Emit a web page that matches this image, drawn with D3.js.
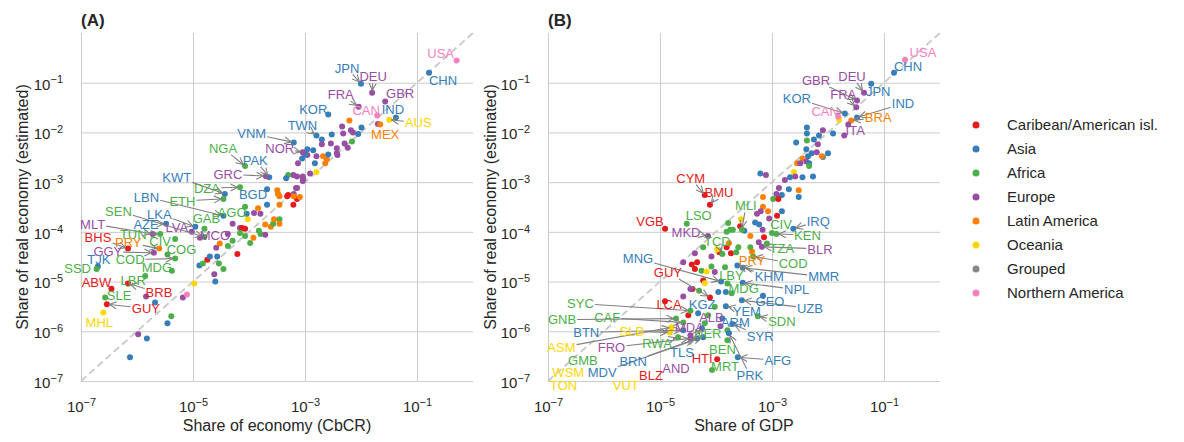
<!DOCTYPE html>
<html><head><meta charset="utf-8">
<script src="https://cdn.jsdelivr.net/npm/d3@7"></script>
<style>
body{margin:0;background:#fff}
text{font-family:"Liberation Sans",Arial,Helvetica,sans-serif}
</style>
</head><body>
<svg id="chart" width="1184" height="442"></svg>
<script>
// ---------------- DATA ----------------
const regions = ["Caribean/American isl.","Asia","Africa","Europe","Latin America","Oceania","Grouped","Northern America"];
const regionColors = ["#e41a1c","#377eb8","#4daf4a","#984ea3","#ff7f00","#ffd700","#888888","#f781bf"];
const xTickValues = [1e-7,1e-5,1e-3,1e-1];
const yTickValues = [1e-7,1e-6,1e-5,1e-4,1e-3,1e-2,1e-1];

// Panel A: [code, regionIndex, share of economy (CbCR), share of real economy]
const labeledA = [
["USA",7,0.51,0.28],["CHN",1,0.164,0.158],["JPN",1,0.010,0.095],["DEU",3,0.0158,0.063],
["GBR",3,0.027,0.042],["FRA",3,0.0091,0.033],["CAN",7,0.0194,0.022],["IND",1,0.042,0.020],
["AUS",5,0.032,0.018],["MEX",4,0.022,0.0145],["KOR",1,0.0026,0.023],["TWN",1,0.0016,0.0087],
["VNM",1,6.3e-4,6.3e-3],["NOR",3,9.1e-4,4.0e-3],["NGA",2,8.5e-5,2.1e-3],["PAK",1,2.3e-4,1.26e-3],
["GRC",3,2.0e-4,1.32e-3],["KWT",1,3.7e-5,5.8e-4],["DZA",2,6.9e-5,7.9e-4],["BGD",1,2.1e-4,7.2e-4],
["LBN",1,3.5e-5,2.1e-4],["ETH",2,3.5e-5,4.6e-4],["AGO",2,8.5e-5,3.2e-4],["SEN",2,1.6e-5,7.9e-5],
["GAB",2,1.6e-5,1.15e-4],["LKA",1,1.1e-5,1.26e-4],["AZE",1,3.3e-6,1.45e-4],["MLT",3,1.9e-6,9.1e-5],
["LVA",3,9.5e-6,1.0e-4],["TUN",2,2.6e-6,9.1e-5],["BHS",0,6.9e-7,4.6e-5],["CIV",2,4.8e-6,7.2e-5],
["PRY",4,2.5e-6,4.6e-5],["MCO",3,1.33e-5,7.6e-5],["GGY",3,2.0e-6,3.8e-5],["COG",2,3.5e-6,3.5e-5],
["TJK",1,2.0e-7,2.0e-5],["COD",2,4.8e-6,2.9e-5],["SSD",2,1.9e-7,1.8e-5],["MDG",2,4.2e-6,1.66e-5],
["LBR",2,1.4e-6,1.3e-5],["ABW",0,3.5e-7,7.2e-6],["BRB",0,6.9e-7,9.1e-6],["SLE",2,2.7e-7,4.8e-6],
["GUY",0,2.9e-7,3.5e-6],["MHL",5,2.5e-7,2.4e-6]
];
// Panel A unlabeled: [regionIndex, CbCR share, real share]
const otherA = [
[3,1.45e-6,5.0e-6],[1,2.1e-6,3.8e-6],[2,4.1e-6,2.0e-6],[1,3.5e-6,1.45e-6],[3,1.05e-6,8.7e-7],
[1,1.5e-6,7.2e-7],[1,7.5e-7,3.0e-7],[5,1.05e-5,9.1e-6],[3,6.6e-6,4.8e-6],[7,7.8e-6,5.5e-6],
[3,2.4e-5,1.4e-5],[1,2.5e-5,1.0e-5],[1,1.3e-5,2.1e-5],[0,1.8e-5,2.75e-5],[2,1.5e-5,2.3e-5],
[1,2.0e-5,3.2e-5],[1,2.7e-5,3.2e-5],[2,2.9e-5,2.3e-5],[2,3.5e-5,1.8e-5],[3,2.6e-5,4.8e-5],
[4,3.0e-5,5.8e-5],[2,4.2e-5,5.2e-5],[2,5.1e-5,6.6e-5],[3,4.2e-5,9.1e-5],[3,5.1e-5,1.45e-4],
[0,6.2e-5,3.6e-5],[3,6.9e-5,1.2e-4],[0,7.5e-5,1.2e-4],[0,8.5e-5,1.15e-4],[2,6.9e-5,9.5e-5],
[2,8.5e-5,8.3e-5],[2,1.05e-4,6.0e-5],[4,1.2e-4,7.6e-5],[2,1.5e-4,1.05e-4],[2,1.6e-4,9.1e-5],
[4,1.95e-4,1.4e-4],[3,1.95e-4,8.7e-5],[4,2.45e-4,1.26e-4],[2,2.7e-4,1.45e-4],[4,2.8e-4,1.8e-4],
[2,3.5e-4,1.8e-4],[4,3.5e-4,1.45e-4],[3,1.6e-4,2.3e-4],[3,1.23e-4,2.4e-4],[4,1.45e-4,3.0e-4],
[5,9.5e-5,1.8e-4],[1,9.1e-5,2.3e-4],[1,2.1e-4,3.5e-4],[4,3.5e-4,3.5e-4],[4,3.3e-4,5.8e-4],
[4,3.2e-4,6.9e-4],[0,5.0e-4,5.5e-4],[3,6.3e-4,5.8e-4],[0,7.2e-4,4.6e-4],[4,8.1e-4,5.0e-4],
[0,6.2e-4,3.5e-4],[3,7.2e-4,7.6e-4],[3,9.1e-4,1.05e-3],[3,4.6e-3,0.0132],[4,6.2e-3,0.0174],
[3,4.8e-3,9.5e-3],[3,7.2e-3,0.01],[1,3.0e-3,9.1e-3],[1,2.0e-3,7.2e-3],[3,2.0e-3,5.8e-3],
[3,2.9e-3,6.0e-3],[3,3.7e-3,4.8e-3],[3,5.1e-3,6.0e-3],[3,3.7e-3,3.8e-3],[1,1.4e-3,4.4e-3],
[1,1.1e-3,4.6e-3],[3,1.1e-3,3.5e-3],[4,2.1e-3,3.3e-3],[4,2.45e-3,2.9e-3],[4,2.3e-3,2.4e-3],
[1,2.6e-3,3.6e-3],[2,6.9e-3,6.6e-3],[3,1.6e-3,3.3e-3],[1,1.5e-3,2.4e-3],[1,1.0e-3,3.6e-3],
[1,8.9e-4,3.0e-3],[3,7.5e-4,2.4e-3],[3,1.23e-3,1.5e-3],[5,1.6e-3,1.6e-3],[3,9.1e-4,1.3e-3],
[3,9.3e-4,1.15e-3],[3,7.2e-4,1.3e-3],[3,6.2e-4,1.4e-3],[2,5.0e-4,1.4e-3],[1,4.6e-4,1.2e-3],
[3,6.9e-4,7.6e-4],[0,4.8e-4,5.2e-4],[4,6.3e-4,5.2e-4],[4,3.5e-4,5.2e-4],[1,0.0102,0.0126],
[3,6.6e-3,0.011],[1,8.9e-3,9.3e-3],[3,5.8e-3,4.9e-3],[3,3.8e-3,3.5e-3],[3,0.02,0.0148]
];

// Panel B: [code, regionIndex, share of GDP, share of real economy]
const labeledB = [
["USA",7,0.237,0.29],["CHN",1,0.151,0.158],["JPN",1,0.059,0.095],["DEU",3,0.044,0.063],
["GBR",3,0.033,0.044],["FRA",3,0.032,0.032],["KOR",1,0.020,0.024],["IND",1,0.033,0.020],
["CAN",7,0.0152,0.021],["BRA",4,0.026,0.0174],["ITA",3,0.023,0.0145],["CYM",0,6.3e-5,5.5e-4],
["BMU",0,7.8e-5,3.5e-4],["VGB",0,1.23e-5,1.15e-4],["LSO",2,3.0e-5,1.45e-4],["MKD",3,7.2e-5,8.3e-5],
["MLI",2,2.9e-4,1.1e-4],["TCD",2,1.3e-4,3.6e-5],["CIV",2,1.0e-3,9.5e-5],["IRQ",1,2.4e-3,1.15e-4],
["KEN",2,1.2e-3,9.1e-5],["BLR",3,6.6e-4,5.0e-5],["TZA",2,8.1e-4,5.8e-5],["COD",2,4.6e-4,3.2e-5],
["PRY",4,4.4e-4,4.0e-5],["MMR",1,3.0e-4,1.9e-5],["KHM",1,2.4e-4,2.1e-5],["LBY",2,1.6e-4,9.1e-6],
["NPL",1,3.0e-4,9.5e-6],["MDG",2,1.9e-4,5.8e-6],["GEO",1,6.9e-4,5.2e-6],["UZB",1,2.9e-4,4.2e-6],
["YEM",1,1.5e-4,3.2e-6],["SDN",2,5.6e-4,2.0e-6],["ARM",1,1.3e-4,1.8e-6],["SYR",1,1.95e-4,1.4e-6],
["AFG",1,2.45e-4,3.0e-7],["PRK",1,1.7e-4,9.1e-7],["BEN",2,1.6e-4,6.6e-7],["MRT",2,8.5e-5,1.66e-7],
["HTI",0,1.05e-4,2.75e-7],["NER",2,6.3e-5,1.45e-6],["ALB",3,1.2e-4,1.26e-6],["MDA",3,3.5e-5,8.3e-7],
["KGZ",1,4.8e-5,2.3e-6],["LCA",0,1.23e-5,4.0e-6],["GUY",0,7.8e-5,4.8e-6],["MNG",1,1.23e-4,1.0e-5],
["SYC",2,3.5e-5,2.6e-6],["GNB",2,1.93e-5,1.8e-6],["CAF",2,2.6e-5,1.5e-6],["BTN",1,2.6e-5,1.05e-6],
["SLB",5,1.5e-5,9.5e-7],["ASM",5,1.6e-5,1.2e-6],["FRO",3,3.5e-5,7.2e-7],["RWA",2,2.1e-5,7.6e-7],
["BRN",1,4.6e-5,7.2e-7],["TLS",1,5.6e-5,1.15e-6],["MDV",1,5.9e-5,7.6e-7]
];
// Panel B labels whose points fall below the plotted range: [code, regionIndex]
const labelOnlyB = [["GMB",2],["WSM",5],["TON",5],["VUT",5],["BLZ",0],["AND",3]];
// Panel B unlabeled: [regionIndex, GDP share, real share]
const otherB = [
[5,0.0158,0.018],[1,4.2e-3,0.0126],[1,4.2e-3,9.5e-3],[3,8.1e-3,0.011],[1,6.9e-3,8.7e-3],
[1,0.0123,9.5e-3],[3,0.0195,8.7e-3],[1,2.7e-3,6.3e-3],[2,4.2e-3,6.9e-3],[1,5.6e-3,7.2e-3],
[3,6.6e-3,5.8e-3],[1,4.1e-3,4.6e-3],[1,5.1e-3,3.8e-3],[3,6.3e-3,4.0e-3],[1,0.01,3.8e-3],
[1,8.1e-3,3.2e-3],[4,7.8e-3,3.3e-3],[1,4.4e-3,3.3e-3],[4,3.5e-3,3.0e-3],[3,4.1e-3,2.6e-3],
[4,2.8e-3,2.4e-3],[3,3.2e-3,2.4e-3],[1,4.6e-3,2.4e-3],[2,4.6e-3,2.1e-3],[5,2.45e-3,1.6e-3],
[1,6.2e-4,1.5e-3],[3,7.8e-4,1.4e-3],[1,2.1e-3,1.26e-3],[3,2.6e-3,1.3e-3],[3,1.7e-3,1.1e-3],
[1,3.5e-3,1.26e-3],[1,5.4e-3,1.3e-3],[3,1.33e-3,7.6e-4],[1,2.0e-3,7.2e-4],[4,3.0e-3,6.9e-4],
[1,3.0e-3,5.0e-4],[4,6.9e-4,5.0e-4],[1,1.5e-3,5.5e-4],[3,1.2e-3,5.8e-4],[2,1.05e-3,4.6e-4],
[0,1.3e-3,4.6e-4],[4,6.9e-4,3.2e-4],[4,8.5e-4,2.6e-4],[3,5.4e-4,2.3e-4],[3,6.3e-4,2.6e-4],
[1,5.0e-4,1.55e-4],[1,5.9e-4,1.4e-4],[3,8.9e-4,1.85e-4],[0,1.23e-3,2.1e-4],[1,1.5e-3,2.6e-4],
[5,2.8e-4,1.8e-4],[0,2.7e-4,1.3e-4],[2,1.8e-4,1.1e-4],[2,2.0e-4,1.1e-4],[2,1.55e-4,1.0e-4],
[4,4.1e-4,8.3e-5],[1,3.2e-4,1.05e-4],[3,6.8e-4,1.1e-4],[2,2.5e-4,4.9e-5],[0,1.55e-4,4.9e-5],
[4,1.7e-4,5.9e-5],[2,4.1e-4,4.9e-5],[3,5.8e-4,6.2e-5],[0,7.2e-4,7.8e-5],[2,1.65e-4,1.5e-4],
[0,1.15e-4,3.9e-5],[5,1.05e-4,4.4e-5],[0,1.85e-4,3.7e-5],[2,2.3e-4,3.9e-5],[3,4.2e-5,3.7e-5],
[2,5.9e-5,4.9e-5],[3,8.3e-5,3.2e-5],[0,4.6e-5,2.45e-5],[0,4.2e-5,1.8e-5],[2,5.5e-5,1.66e-5],
[5,6.8e-5,1.6e-5],[2,8.3e-5,2.0e-5],[3,9.5e-5,1.55e-5],[2,1.45e-4,1.95e-5],[0,5.9e-5,1.05e-5],
[0,3.8e-5,7.1e-6],[3,2.6e-5,5.0e-6],[5,6.3e-5,9.3e-6],[3,2.6e-5,2.45e-5],[0,3.7e-5,2.2e-5],
[3,3.5e-5,7.1e-6],[2,5.0e-5,6.5e-6],[1,1.1e-4,6.2e-6],[1,1.5e-4,6.2e-6],[2,9.5e-5,3.1e-6],
[2,7.2e-5,2.1e-6],[2,1.6e-4,1.05e-6],[0,3.2e-5,2.1e-6]
];

// ---------------- LAYOUT (label offsets in px from their point) ----------------
const offsetA = {USA:[-16,-7],CHN:[14,7],JPN:[-14,-16],DEU:[1,-16],GBR:[15,-8],FRA:[-18,-12],CAN:[-11,-5],
IND:[-3,-8],AUS:[29,3],MEX:[5,10],KOR:[-15,-5],TWN:[-14,-10],VNM:[-42,-9],NOR:[-23,-4],NGA:[-22,-18],
PAK:[-14,-17],GRC:[-38,-2],KWT:[-48,-17],DZA:[-33,1],BGD:[-14,5],LBN:[-77,-19],ETH:[-41,2],AGO:[-13,6],
SEN:[-86,-26],GAB:[2,-11],LKA:[-36,-13],AZE:[-20,0],MLT:[-60,-10],LVA:[-15,-5],TUN:[-27,0],BHS:[-30,-11],
CIV:[-15,2],PRY:[-31,-6],MCO:[15,-2],GGY:[-46,-1],COG:[14,-5],TJK:[1,-7],COD:[-45,1],SSD:[-19,-1],
MDG:[-15,-3],LBR:[-12,4],ABW:[-15,-6],BRB:[31,9],SLE:[14,-2],GUY:[39,4],MHL:[-4,10]};
const offsetB = {USA:[18,-7],CHN:[14,-7],JPN:[7,7],DEU:[-12,-16],GBR:[-41,-20],FRA:[-13,-13],KOR:[-48,-15],
IND:[46,-14],CAN:[-13,-5],BRA:[27,-3],ITA:[7,6],CYM:[-14,-17],BMU:[9,-12],VGB:[-15,-8],LSO:[12,-9],
MKD:[-22,-4],MLI:[4,-24],TCD:[-5,-13],CIV:[9,-9],IRQ:[25,-8],KEN:[31,1],BLR:[58,2],TZA:[15,5],COD:[40,7],
PRY:[0,9],MMR:[81,9],KHM:[32,11],LBY:[4,-8],NPL:[54,7],MDG:[12,-5],GEO:[7,6],UZB:[68,8],YEM:[21,5],
SDN:[24,5],ARM:[13,4],SYR:[28,12],AFG:[40,3],PRK:[21,42],BEN:[-5,9],MRT:[13,-4],HTI:[-15,-1],NER:[3,10],
ALB:[-9,-9],MDA:[-1,-8],KGZ:[4,-9],LCA:[4,3],GUY:[-42,-25],MNG:[-83,-23],SYC:[-110,-7],GNB:[-114,1],
CAF:[-76,-5],BTN:[-97,2],SLB:[-38,-1],ASM:[-110,20],FRO:[-79,9],RWA:[-21,6],BRN:[-64,23],TLS:[-20,24],
MDV:[-101,35]};
// label-only text anchors, in data coordinates
const labelOnlyPosB = {GMB:[4.2e-7,2.6e-7],WSM:[2.3e-7,1.5e-7],TON:[1.9e-7,8.3e-8],VUT:[2.45e-6,8.3e-8],
BLZ:[6.9e-6,1.3e-7],AND:[1.93e-5,1.8e-7]};

// ---------------- DRAW ----------------
const svg = d3.select("#chart");
const txt = "#262626", grid = "#cccccc";
const yTop = 33, yBot = 381;

svg.append("defs").append("marker")
  .attr("id","arr").attr("viewBox","-8 -5 10 10").attr("refX",0).attr("refY",0)
  .attr("markerWidth",10).attr("markerHeight",10).attr("markerUnits","userSpaceOnUse")
  .attr("orient","auto")
  .append("path").attr("d","M-7,-3.5L0,0L-7,3.5").attr("fill","none")
  .attr("stroke","#808080").attr("stroke-width",1.1);

const panels = [
  {title:"(A)", x0:81, x1:473, xlabel:"Share of economy (CbCR)", ylabelX:22,
   labeled:labeledA, other:otherA, offsets:offsetA, only:[], onlyPos:{}},
  {title:"(B)", x0:548, x1:940, xlabel:"Share of GDP", ylabelX:490,
   labeled:labeledB, other:otherB, offsets:offsetB, only:labelOnlyB, onlyPos:labelOnlyPosB}
];

function supLabel(sel){
  sel.text(null);
  sel.append("tspan").text("10");
  sel.append("tspan").attr("dy","-0.55em").attr("font-size","11px")
     .text(d => "\u2212" + Math.round(-Math.log10(d)));
}

panels.forEach(p => {
  const x = d3.scaleLog().domain([1e-7,1]).range([p.x0,p.x1]);
  const y = d3.scaleLog().domain([1e-7,1]).range([yBot,yTop]);
  const g = svg.append("g");

  // grid (x)
  const gx = g.append("g").attr("transform",`translate(0,${yBot})`)
    .call(d3.axisBottom(x).tickValues(xTickValues).tickSize(-(yBot-yTop)).tickSizeOuter(0));
  gx.select(".domain").remove();
  gx.selectAll(".tick line").attr("stroke",grid).attr("stroke-width",1);
  gx.selectAll(".tick text").attr("y",31).attr("dy",null).attr("fill",txt)
    .attr("font-size","15px").call(supLabel);

  // grid (y)
  const gy = g.append("g").attr("transform",`translate(${p.x0},0)`)
    .call(d3.axisLeft(y).tickValues(yTickValues).tickSize(-(p.x1-p.x0)).tickSizeOuter(0));
  gy.select(".domain").remove();
  gy.selectAll(".tick line").attr("stroke",grid).attr("stroke-width",1);
  gy.selectAll(".tick text").attr("x",-18).attr("dy","0.42em").attr("fill",txt)
    .attr("font-size","15px").attr("text-anchor","end").call(supLabel);

  // diagonal
  g.append("line").attr("x1",x(1e-7)).attr("y1",y(1e-7)).attr("x2",x(1)).attr("y2",y(1))
    .attr("stroke","#c8c8c8").attr("stroke-width",1.8).attr("stroke-dasharray","7,4");

  // points
  g.append("g").selectAll("circle").data(p.other).join("circle")
    .attr("cx",d=>x(d[1])).attr("cy",d=>y(d[2])).attr("r",3)
    .attr("fill",d=>regionColors[d[0]]);
  g.append("g").selectAll("circle").data(p.labeled).join("circle")
    .attr("cx",d=>x(d[2])).attr("cy",d=>y(d[3])).attr("r",3)
    .attr("fill",d=>regionColors[d[1]]);

  // labels
  const arrowG = g.append("g");
  const labG = g.append("g");
  p.labeled.forEach(d => {
    const px = x(d[2]), py = y(d[3]);
    const off = p.offsets[d[0]] || [0,-10];
    const cx = px + off[0], cy = py + off[1];
    const t = labG.append("text").attr("x",cx).attr("y",cy).attr("dy","0.36em")
      .attr("text-anchor","middle").attr("font-size","13px")
      .attr("fill",regionColors[d[1]]).text(d[0]);
    const bb = t.node().getBBox();
    const hw = bb.width/2 + 1, hh = bb.height/2 - 1;
    const dx = px - cx, dy = py - cy;
    const tx = dx !== 0 ? hw/Math.abs(dx) : Infinity;
    const ty = dy !== 0 ? hh/Math.abs(dy) : Infinity;
    const tt = Math.min(tx, ty);
    if (tt >= 1) return;
    const sx = cx + dx*tt, sy = cy + dy*tt;
    const len = Math.hypot(px-sx, py-sy);
    if (len < 5) return;
    const ex = px - (px-sx)/len*2.5, ey = py - (py-sy)/len*2.5;
    arrowG.append("line").attr("x1",sx).attr("y1",sy).attr("x2",ex).attr("y2",ey)
      .attr("stroke","#808080").attr("stroke-width",1.1).attr("marker-end","url(#arr)");
  });
  p.only.forEach(d => {
    const pos = p.onlyPos[d[0]];
    labG.append("text").attr("x",x(pos[0])).attr("y",y(pos[1])).attr("dy","0.36em")
      .attr("text-anchor","middle").attr("font-size","13px")
      .attr("fill",regionColors[d[1]]).text(d[0]);
  });

  // titles & axis labels
  svg.append("text").attr("x",p.x0).attr("y",26).attr("font-size","17px")
    .attr("font-weight","bold").attr("fill",txt).text(p.title);
  svg.append("text").attr("x",(p.x0+p.x1)/2).attr("y",431).attr("text-anchor","middle")
    .attr("font-size","16px").attr("fill",txt).text(p.xlabel);
  svg.append("text").attr("transform",`translate(${p.ylabelX},${(yTop+yBot)/2}) rotate(-90)`)
    .attr("text-anchor","middle").attr("dy","0.35em").attr("font-size","16px").attr("fill",txt)
    .text("Share of real economy (estimated)");
});

// legend
const lg = svg.append("g");
regions.forEach((r,i) => {
  const yy = 125 + i*24;
  lg.append("circle").attr("cx",976).attr("cy",yy).attr("r",3.5).attr("fill",regionColors[i]);
  lg.append("text").attr("x",1007).attr("y",yy).attr("dy","0.36em").attr("font-size","15px")
    .attr("fill",txt).text(r);
});
</script>
</body></html>
